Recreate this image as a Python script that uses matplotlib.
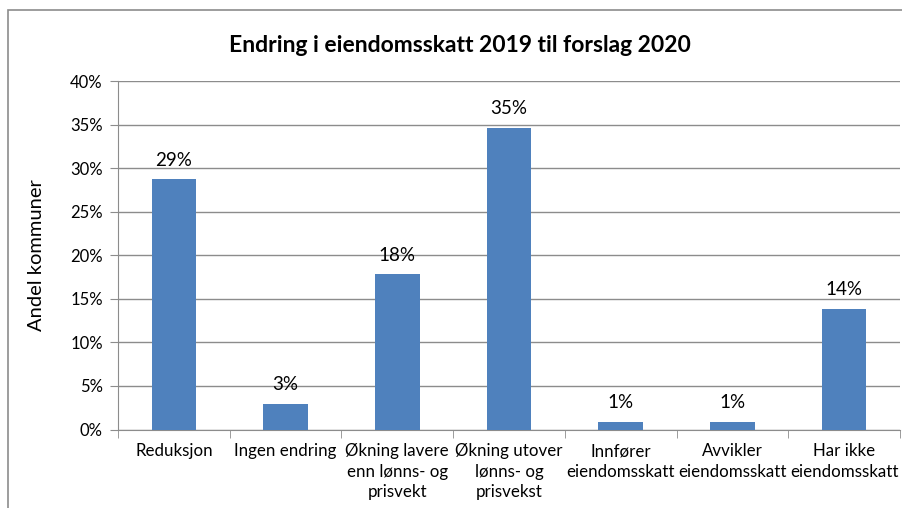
import matplotlib
matplotlib.use("Agg")
import matplotlib.pyplot as plt
from matplotlib.patches import Rectangle
from matplotlib.ticker import FuncFormatter, FixedLocator
import numpy as np

categories = ["Reduksjon", "Ingen endring", "Økning lavere\nenn lønns- og\nprisvekt",
              "Økning utover\nlønns- og\nprisvekst", "Innfører\neiendomsskatt",
              "Avvikler\neiendomsskatt", "Har ikke\neiendomsskatt"]
values = [28.7, 2.9, 17.8, 34.6, 0.9, 0.9, 13.8]
yticks = [0, 5, 10, 15, 20, 25, 30, 35, 40]

plt.rcParams['font.family'] = ['Lato', 'DejaVu Sans']

fig = plt.figure(figsize=(9.03, 5.08), dpi=100)
fig.patches.append(Rectangle((8/903, -0.1), 1.0, 1 - 10/508 + 0.1, transform=fig.transFigure,
                             fill=False, edgecolor='#8c8c8c', linewidth=1.2))
ax = fig.add_axes([118/903, 1 - 429.5/508, (900 - 118)/903, (429.5 - 81)/508])

x = np.arange(len(categories))
bars = ax.bar(x, values, width=0.4, color='#4f81bd', zorder=3)
for xi, v in zip(x, values):
    ax.annotate(f"{v:.0f}%", (xi, v), xytext=(0, 10), textcoords='offset points',
                ha='center', va='baseline', fontsize=13.5, color='black')

ax.set_xlim(-0.5, len(categories) - 0.5)
ax.set_ylim(0, 40)
ax.set_yticks(yticks)
ax.yaxis.set_major_formatter(FuncFormatter(lambda v, p: f"{v:.0f}%"))
ax.grid(axis='y', color='#8c8c8c', linewidth=1, zorder=0)
ax.tick_params(axis='y', length=6, color='#8c8c8c', labelsize=12, pad=5)

ax.set_xticks(x)
ax.set_xticklabels(categories, fontsize=12.2, linespacing=1.32, va='top')
ax.tick_params(axis='x', length=0, pad=10)
ax.xaxis.set_minor_locator(FixedLocator(np.arange(-0.5, len(categories), 1.0)))
ax.tick_params(axis='x', which='minor', length=6, color='#8c8c8c')

for s in ['top', 'right']:
    ax.spines[s].set_visible(False)
for s in ['left', 'bottom']:
    ax.spines[s].set_color('#8c8c8c')

ax.set_ylabel("Andel kommuner", fontsize=14.5, labelpad=18)
fig.text(460/903, 1 - 45/508, "Endring i eiendomsskatt 2019 til forslag 2020",
         ha='center', va='center', fontsize=16.5, fontweight='bold')

fig.savefig("out.png", dpi=100)
